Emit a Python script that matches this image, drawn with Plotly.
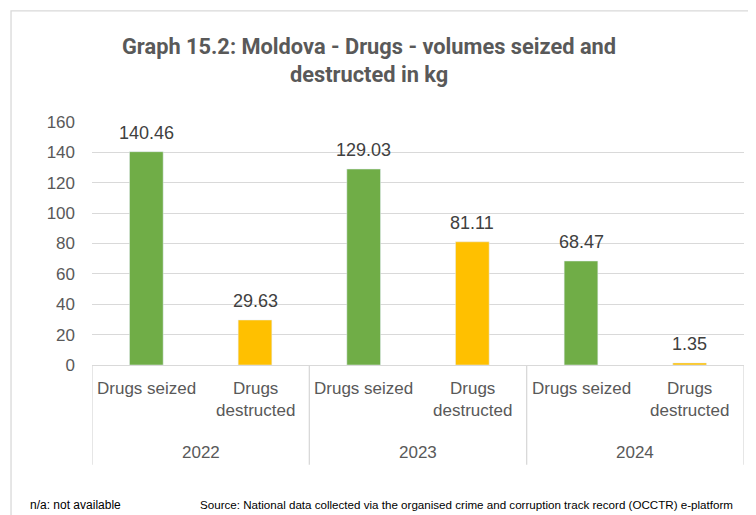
import plotly.graph_objects as go

years = ["2022", "2023", "2024"]
measures = ["Drugs seized", "Drugs<br>destructed"]
seized = [140.46, 129.03, 68.47]
destructed = [29.63, 81.11, 1.35]
y_ticks = [0, 20, 40, 60, 80, 100, 120, 140, 160]

GREEN = "#70AD47"
YELLOW = "#FFC000"
TXT = "#595959"
GRID = "#D9D9D9"
FONT = "Liberation Sans"

x_seized = [2 * i for i in range(len(years))]
x_destr = [2 * i + 1 for i in range(len(years))]

fig = go.Figure()
fig.add_trace(go.Bar(x=x_seized, y=seized, width=0.31, marker_color=GREEN,
                     showlegend=False, hoverinfo="y"))
fig.add_trace(go.Bar(x=x_destr, y=destructed, width=0.31, marker_color=YELLOW,
                     showlegend=False, hoverinfo="y"))

annotations = []
for xs, vals in ((x_seized, seized), (x_destr, destructed)):
    for xv, v in zip(xs, vals):
        annotations.append(dict(x=xv, y=v, xref="x", yref="y", text=f"{v:.2f}",
                                showarrow=False, yanchor="bottom", yshift=7,
                                font=dict(family=FONT, size=18, color="#404040")))

for i, yr in enumerate(years):
    for j, m in enumerate(measures):
        annotations.append(dict(x=2 * i + j, y=-0.05, xref="x", yref="paper",
                                text=m, showarrow=False, yanchor="top",
                                font=dict(family=FONT, size=17, color=TXT)))
    annotations.append(dict(x=2 * i + 0.5, y=-0.36, xref="x", yref="paper",
                            text=yr, showarrow=False, yanchor="middle",
                            font=dict(family=FONT, size=17, color=TXT)))

annotations.append(dict(x=0.4248, y=1.37, xref="paper", yref="paper",
                        text="<b>Graph 15.2: Moldova - Drugs - volumes seized and<br>destructed in kg</b>",
                        showarrow=False, yanchor="top",
                        font=dict(family="Roboto", size=21.8, color=TXT)))
annotations.append(dict(x=-0.098, y=-0.576, xref="paper", yref="paper",
                        text="n/a: not available", showarrow=False, xanchor="left",
                        yanchor="middle",
                        font=dict(family=FONT, size=12, color="#000000")))
annotations.append(dict(x=0.1626, y=-0.576, xref="paper", yref="paper",
                        text="Source: National data collected via the organised crime and corruption track record (OCCTR) e-platform",
                        showarrow=False, xanchor="left", yanchor="middle",
                        font=dict(family=FONT, size=11.6, color="#000000")))

shapes = []
for b in [-0.5, 1.5, 3.5, 5.5]:
    shapes.append(dict(type="line", xref="x", yref="paper", x0=b, x1=b, y0=0, y1=-0.41,
                       line=dict(color=GRID, width=1.3)))
shapes.append(dict(type="rect", xref="paper", yref="paper", x0=-0.1242, x1=1.05,
                   y0=-0.7, y1=1.457, line=dict(color=GRID, width=1.3)))

fig.update_layout(
    width=756, height=515,
    margin=dict(l=84, r=20, t=114, b=158),
    paper_bgcolor="white", plot_bgcolor="white",
    xaxis=dict(range=[-0.5, 5.5], showticklabels=False, showgrid=False,
               zeroline=False, showline=True, linecolor=GRID, linewidth=1.3),
    yaxis=dict(range=[0, 160], tickvals=y_ticks, showgrid=True, gridcolor=GRID,
               gridwidth=1.2, zeroline=False, ticklabelstandoff=16,
               tickfont=dict(family=FONT, size=17, color=TXT)),
    annotations=annotations, shapes=shapes,
)

fig.write_html("out.html")
